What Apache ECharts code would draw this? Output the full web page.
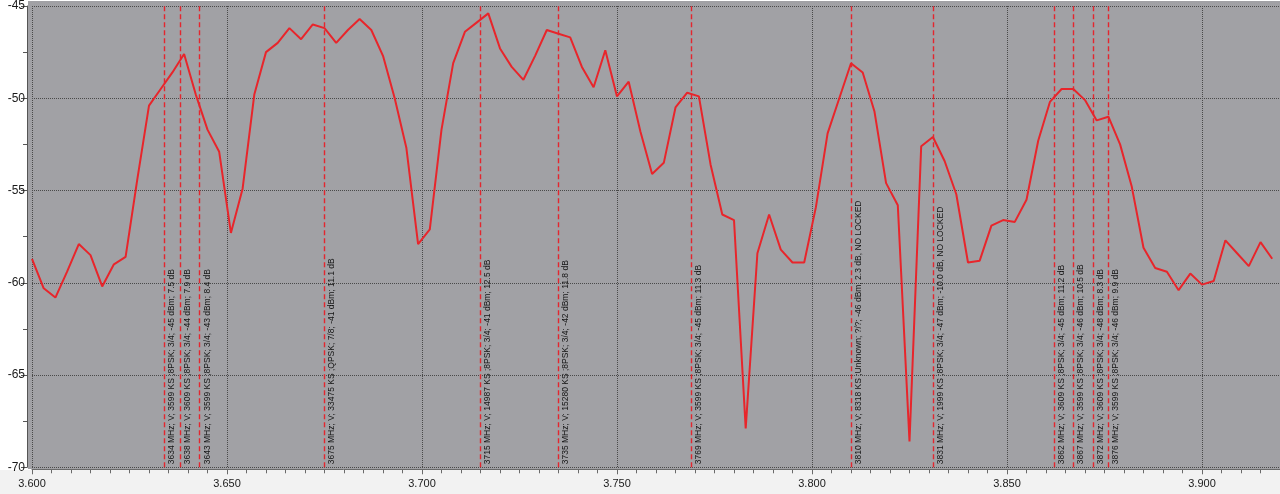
<!DOCTYPE html>
<html><head><meta charset="utf-8">
<script src="https://cdn.jsdelivr.net/npm/echarts@6/dist/echarts.min.js"></script>
<style>html,body{margin:0;padding:0;background:#ffffff}#c{width:1280px;height:494px}</style>
</head><body><div id="c"></div>
<script>
// Frequencies of the measured points (MHz)
const freqsMHz = [3600,3603,3606,3609,3612,3615,3618,3621,3624,3627,3630,3633,3636,3639,3642,3645,3648,3651,3654,3657,
3660,3663,3666,3669,3672,3675,3678,3681,3684,3687,3690,3693,3696,3699,3702,3705,3708,3711,3714,3717,
3720,3723,3726,3729,3732,3735,3738,3741,3744,3747,3750,3753,3756,3759,3762,3765,3768,3771,3774,3777,
3780,3783,3786,3789,3792,3795,3798,3801,3804,3807,3810,3813,3816,3819,3822,3825,3828,3831,3834,3837,
3840,3843,3846,3849,3852,3855,3858,3861,3864,3867,3870,3873,3876,3879,3882,3885,3888,3891,3894,3897,
3900,3903,3906,3909,3912,3915,3918];
// Measured level (dBm)
const levels = [-58.7,-60.3,-60.8,-59.4,-57.9,-58.5,-60.2,-59.0,-58.6,-54.4,-50.4,-49.5,-48.6,-47.6,-49.8,-51.7,-52.9,-57.3,-54.9,-49.8,
-47.5,-47.0,-46.2,-46.8,-46.0,-46.2,-47.0,-46.3,-45.7,-46.3,-47.7,-50.0,-52.7,-57.9,-57.1,-51.7,-48.1,-46.4,-45.9,-45.4,
-47.3,-48.3,-49.0,-47.7,-46.3,-46.5,-46.7,-48.3,-49.4,-47.4,-49.9,-49.1,-51.8,-54.1,-53.5,-50.5,-49.7,-49.9,-53.6,-56.3,
-56.6,-67.9,-58.4,-56.3,-58.2,-58.9,-58.9,-55.9,-51.9,-50.0,-48.1,-48.6,-50.7,-54.6,-55.8,-68.6,-52.6,-52.1,-53.4,-55.2,
-58.9,-58.8,-56.9,-56.6,-56.7,-55.5,-52.3,-50.2,-49.5,-49.5,-50.1,-51.2,-51.0,-52.5,-54.8,-58.1,-59.2,-59.4,-60.4,-59.5,
-60.1,-59.9,-57.7,-58.4,-59.1,-57.8,-58.7];
// Transponder markers
const markerFreqsMHz = [3634,3638,3643,3675,3715,3735,3769,3810,3831,3862,3867,3872,3876];
const markerLabels = [
 '3634 MHz; V; 3599 KS ;8PSK; 3/4; -45 dBm; 7.5 dB',
 '3638 MHz; V; 3609 KS ;8PSK; 3/4; -44 dBm; 7.9 dB',
 '3643 MHz; V; 3599 KS ;8PSK; 3/4; -43 dBm; 8.4 dB',
 '3675 MHz; V; 33475 KS ;QPSK; 7/8; -41 dBm; 11.1 dB',
 '3715 MHz; V; 14987 KS ;8PSK; 3/4; -41 dBm; 12.5 dB',
 '3735 MHz; V; 15280 KS ;8PSK; 3/4; -42 dBm; 11.8 dB',
 '3769 MHz; V; 3599 KS ;8PSK; 3/4; -45 dBm; 11.3 dB',
 '3810 MHz; V; 8318 KS ;Unknown; ?/?; -46 dBm; 2.3 dB, NO LOCKED',
 '3831 MHz; V; 1999 KS ;8PSK; 3/4; -47 dBm; -10.0 dB, NO LOCKED',
 '3862 MHz; V; 3609 KS ;8PSK; 3/4; -45 dBm; 11.2 dB',
 '3867 MHz; V; 3599 KS ;8PSK; 3/4; -46 dBm; 10.5 dB',
 '3872 MHz; V; 3609 KS ;8PSK; 3/4; -48 dBm; 8.3 dB',
 '3876 MHz; V; 3599 KS ;8PSK; 3/4; -46 dBm; 9.9 dB'
];
// Axis settings (GHz / dBm)
const xMin = 3.6, xMax = 3.92, xStep = 0.05;
const yMin = -70, yMax = -45, yStep = 5;

const seriesData = freqsMHz.map((f, i) => [f / 1000, levels[i]]);
const markData = markerFreqsMHz.map((f, i) => ({ xAxis: f / 1000, label: { formatter: markerLabels[i] } }));

const chart = echarts.init(document.getElementById('c'));
chart.setOption({
  animation: false,
  backgroundColor: '#ffffff',
  textStyle: { fontFamily: 'Liberation Sans, Arial, sans-serif' },
  grid: { left: 32, right: 0, top: 5.3, bottom: 26.7, containLabel: false },
  graphic: [{
    type: 'rect', z: -10, silent: true,
    shape: { x: 28, y: 1, width: 1252, height: 468 },
    style: { fill: '#a1a1a5' }
  }, {
    type: 'rect', z: -11, silent: true,
    shape: { x: 0, y: 470, width: 1280, height: 24 },
    style: { fill: '#f2f2f2' }
  }],
  xAxis: {
    type: 'value', min: xMin, max: xMax, interval: xStep, offset: 2,
    axisLine: { show: true, lineStyle: { color: '#6a6a6a', width: 1 } },
    axisTick: { show: true, length: 5, lineStyle: { color: '#6a6a6a' } },
    minorTick: { show: true, splitNumber: 10, length: 4, lineStyle: { color: '#6a6a6a' } },
    axisLabel: { color: '#1a1a1a', fontSize: 11, margin: 9, showMaxLabel: false,
      formatter: v => v.toFixed(3) },
    splitLine: { show: true, lineStyle: { type: 'dotted', color: '#4a4a4a', width: 1 } }
  },
  yAxis: {
    type: 'value', min: yMin, max: yMax, interval: yStep, offset: 5,
    axisLine: { show: true, lineStyle: { color: '#555555', width: 1 } },
    axisTick: { show: true, length: 6, lineStyle: { color: '#555555' } },
    minorTick: { show: true, splitNumber: 2, length: 4, lineStyle: { color: '#555555' } },
    axisLabel: { color: '#1a1a1a', fontSize: 12, margin: 2 },
    splitLine: { show: true, lineStyle: { type: 'dotted', color: '#4a4a4a', width: 1 } }
  },
  series: [{
    type: 'line', data: seriesData, showSymbol: false, symbol: 'none',
    lineStyle: { color: '#e8252b', width: 2 },
    z: 3,
    markLine: {
      silent: true, symbol: 'none', animation: false, precision: 6,
      lineStyle: { color: '#e4262e', type: [5, 3], width: 1.4, opacity: 1 },
      emphasis: { disabled: true },
      label: { show: true, position: 'insideStartBottom', color: '#151515', fontSize: 8.5,
        fontFamily: 'Liberation Sans, Arial, sans-serif', distance: 3 },
      data: markData
    }
  }]
});
</script></body></html>
